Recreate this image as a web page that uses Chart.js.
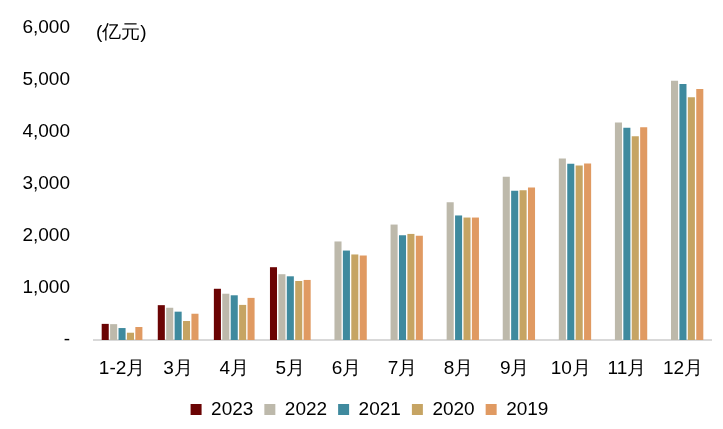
<!DOCTYPE html>
<html>
<head>
<meta charset="utf-8">
<script src="https://cdn.jsdelivr.net/npm/chart.js@4.4.1/dist/chart.umd.min.js"></script>
<style>
  html, body { margin: 0; padding: 0; background: #fff; }
  #wrap { width: 723px; height: 429px; position: relative; }
</style>
</head>
<body>
<div id="wrap"><canvas id="salesChart"></canvas></div>
<script>
// ===== Data =====
const months = ['1-2月', '3月', '4月', '5月', '6月', '7月', '8月', '9月', '10月', '11月', '12月']
const years = ['2023', '2022', '2021', '2020', '2019']

const values2023 = [310, 670, 985, 1400, null, null, null, null, null, null, null]
const values2022 = [305, 620, 890, 1265, 1895, 2220, 2650, 3140, 3490, 4185, 4985]
const values2021 = [230, 545, 860, 1225, 1720, 2015, 2395, 2870, 3390, 4080, 4925]
const values2020 = [140, 365, 675, 1135, 1645, 2040, 2355, 2880, 3355, 3920, 4670]
const values2019 = [250, 505, 810, 1155, 1625, 2005, 2355, 2935, 3395, 4090, 4825]

const yTicks = [0, 1000, 2000, 3000, 4000, 5000, 6000]
const unitLabel = '(亿元)'

const colors = ['#6B0404', '#BDB9AB', '#3F8A9E', '#C6A463', '#E09A62']
const seriesValues = [values2023, values2022, values2021, values2020, values2019]

const FONT = 'Liberation Sans, Arial, sans-serif'

// unit label drawn at top left of the plot
const unitPlugin = {
  id: 'unitLabel',
  beforeDraw(chart) {
    // nudge the legend a bit right, like the original
    if (chart.legend && !chart.legend._shifted) {
      chart.legend.left += 14
      chart.legend.right += 14
      chart.legend._shifted = true
    }
  },
  afterDraw(chart) {
    const { ctx, chartArea } = chart
    const y = chart.scales.y.getPixelForValue(6000)
    ctx.save()
    ctx.font = '19px ' + FONT
    ctx.fillStyle = '#000'
    ctx.textBaseline = 'middle'
    ctx.fillText(unitLabel, chartArea.left + 2, y + 5)
    ctx.restore()
  }
}

const ctx = document.getElementById('salesChart').getContext('2d')
new Chart(ctx, {
  type: 'bar',
  data: {
    labels: months,
    datasets: years.map((yr, i) => ({
      label: yr,
      data: seriesValues[i],
      backgroundColor: colors[i],
      borderWidth: 0,
      categoryPercentage: 0.75,
      barPercentage: 0.84
    }))
  },
  options: {
    responsive: true,
    maintainAspectRatio: false,
    animation: false,
    layout: { padding: { top: 28, right: 12, left: 0, bottom: 0 } },
    plugins: {
      legend: {
        position: 'bottom',
        labels: {
          color: '#000',
          font: { family: FONT, size: 19 },
          boxWidth: 11,
          boxHeight: 11,
          padding: 11
        }
      },
      tooltip: { enabled: false }
    },
    scales: {
      y: {
        min: 0,
        max: 6000,
        afterBuildTicks: axis => { axis.ticks = yTicks.map(v => ({ value: v })) },
        afterFit: axis => {
          axis.width = 94
          axis.paddingTop = 0
          axis.paddingBottom = 0
        },
        grid: { display: false, drawTicks: false },
        border: { display: false },
        ticks: {
          color: '#000',
          padding: 24,
          font: { family: FONT, size: 19 },
          callback: v => v === 0 ? '-' : v.toLocaleString('en-US')
        }
      },
      x: {
        afterFit: axis => { axis.height = 49 },
        grid: { display: false, drawTicks: false },
        border: { display: true, color: '#D9D9D9', width: 2 },
        ticks: {
          color: '#000',
          padding: 17,
          maxRotation: 0,
          autoSkip: false,
          font: { family: FONT, size: 19 }
        }
      }
    }
  },
  plugins: [unitPlugin]
})
</script>
</body>
</html>
